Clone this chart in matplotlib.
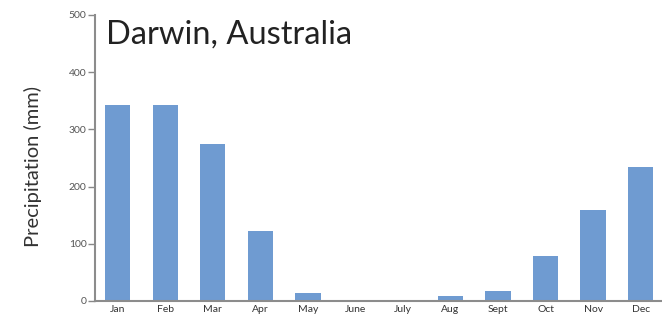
import matplotlib.pyplot as plt

# Monthly precipitation, Darwin (mm)
months = ["Jan", "Feb", "Mar", "Apr", "May", "June", "July", "Aug", "Sept", "Oct", "Nov", "Dec"]
precip = [343, 343, 274, 122, 14, 0, 0, 9, 17, 79, 159, 234]
yticks = [0, 100, 200, 300, 400, 500]

plt.rcParams['font.family'] = ['Lato', 'DejaVu Sans']

fig = plt.figure(figsize=(6.62, 3.19), dpi=100)
ax = fig.add_axes([95 / 662, 18 / 319, 1 - 95 / 662, 286 / 319])

x = range(len(months))
ax.bar(x, precip, width=0.53, color='#6f9bd1')

ax.set_xlim(-0.48, 11.45)
ax.set_ylim(0, 500)
ax.set_xticks(list(x))
ax.set_xticklabels(months, fontsize=7.5, color='#333333')
ax.set_yticks(yticks)
ax.set_yticklabels([str(v) for v in yticks], fontsize=7.5, color='#555555')
ax.tick_params(axis='x', length=0, pad=3)
ax.tick_params(axis='y', length=5, width=1, color='#888888', pad=1)

for s in ['top', 'right']:
    ax.spines[s].set_visible(False)
for s in ['left', 'bottom']:
    ax.spines[s].set_color('#8c8c8c')
    ax.spines[s].set_linewidth(1.5)

ax.set_ylabel('Precipitation (mm)', fontsize=14.5, color='#333333')
ax.yaxis.set_label_coords(-0.093, 0.47)
ax.text(0.02, 0.985, 'Darwin, Australia', transform=ax.transAxes,
        fontsize=23.5, color='#222222', ha='left', va='top')

fig.savefig('out.png', dpi=100)
